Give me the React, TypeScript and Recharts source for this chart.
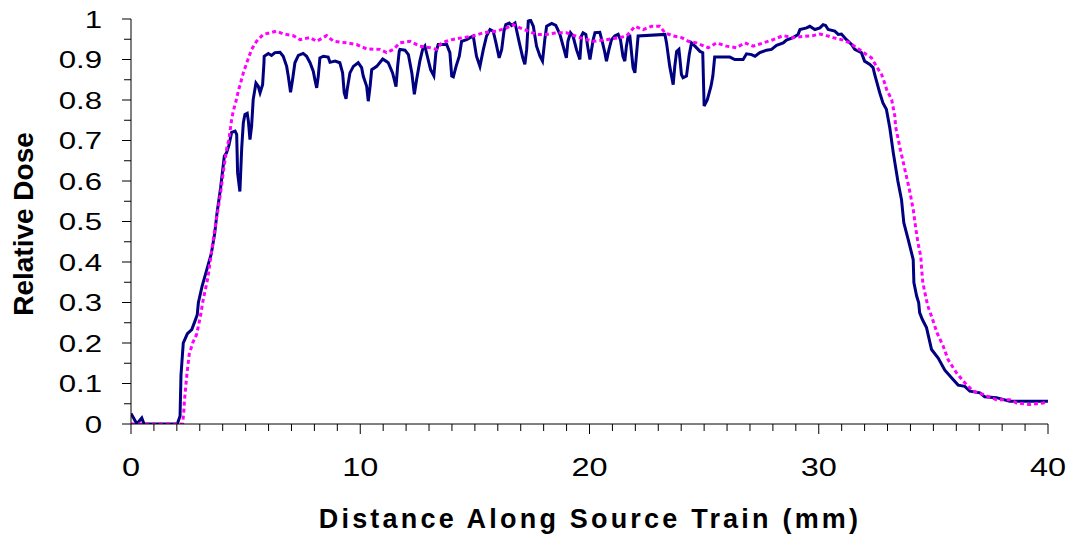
import React from "react";
import { LineChart, Line, XAxis, YAxis, Label } from "recharts";

// measured profile (solid navy), [distance mm, relative dose]
const measured: [number, number][] = [
  [0, 0.026], [0.15, 0.011], [0.25, 0], [0.47, 0.015], [0.57, 0], [2.02, 0], [2.14, 0.02],
  [2.18, 0.12], [2.28, 0.2], [2.35, 0.209], [2.46, 0.223], [2.65, 0.233], [2.79, 0.254],
  [2.89, 0.27], [2.94, 0.3], [3.1, 0.34], [3.3, 0.38], [3.5, 0.42], [3.65, 0.47], [3.75, 0.52],
  [3.85, 0.56], [3.91, 0.584], [4.07, 0.661], [4.17, 0.67], [4.27, 0.688], [4.39, 0.72],
  [4.54, 0.723], [4.61, 0.715], [4.65, 0.62], [4.75, 0.574], [4.83, 0.682], [4.9, 0.744],
  [4.97, 0.764], [5.07, 0.767], [5.12, 0.748], [5.19, 0.702], [5.26, 0.735], [5.33, 0.801],
  [5.45, 0.842], [5.55, 0.834], [5.63, 0.818], [5.74, 0.838], [5.8, 0.892], [5.81, 0.908],
  [5.99, 0.915], [6.13, 0.91], [6.28, 0.917], [6.5, 0.918], [6.64, 0.908], [6.79, 0.883],
  [6.86, 0.859], [6.96, 0.819], [7.05, 0.851], [7.15, 0.892], [7.3, 0.91], [7.51, 0.915],
  [7.66, 0.908], [7.81, 0.892], [7.95, 0.871], [8.02, 0.851], [8.1, 0.83], [8.17, 0.859],
  [8.24, 0.904], [8.39, 0.908], [8.6, 0.906], [8.68, 0.893], [8.9, 0.896], [9.11, 0.892],
  [9.23, 0.867], [9.3, 0.818], [9.38, 0.803], [9.43, 0.826], [9.55, 0.867], [9.7, 0.883],
  [9.91, 0.892], [10.06, 0.88], [10.13, 0.859], [10.28, 0.834], [10.35, 0.797], [10.43, 0.834],
  [10.5, 0.875], [10.72, 0.883], [10.98, 0.901], [11.12, 0.896], [11.22, 0.892], [11.41, 0.867],
  [11.56, 0.833], [11.63, 0.883], [11.7, 0.92], [11.73, 0.925], [11.95, 0.923], [12.1, 0.912],
  [12.25, 0.867], [12.36, 0.814], [12.46, 0.851], [12.6, 0.896], [12.72, 0.925], [12.82, 0.933],
  [12.96, 0.9], [13.07, 0.875], [13.21, 0.86], [13.3, 0.917], [13.4, 0.937], [13.77, 0.937],
  [13.91, 0.917], [13.99, 0.859], [14.06, 0.857], [14.18, 0.883], [14.32, 0.908], [14.42, 0.945],
  [14.64, 0.949], [14.79, 0.954], [14.93, 0.958], [15.07, 0.908], [15.22, 0.883], [15.37, 0.925],
  [15.51, 0.958], [15.66, 0.974], [15.8, 0.97], [15.92, 0.941], [16.06, 0.904], [16.17, 0.925],
  [16.27, 0.97], [16.35, 0.986], [16.5, 0.99], [16.6, 0.984], [16.75, 0.99], [16.94, 0.941],
  [17.09, 0.904], [17.18, 0.888], [17.26, 0.925], [17.33, 0.995], [17.43, 0.997], [17.55, 0.982],
  [17.69, 0.933], [17.84, 0.908], [17.95, 0.896], [18.05, 0.949], [18.13, 0.982], [18.35, 0.989],
  [18.53, 0.984], [18.71, 0.962], [18.85, 0.933], [18.99, 0.904], [19.06, 0.945], [19.17, 0.966],
  [19.28, 0.958], [19.43, 0.925], [19.58, 0.9], [19.65, 0.958], [19.72, 0.966], [19.84, 0.962],
  [19.94, 0.925], [20.02, 0.9], [20.16, 0.949], [20.24, 0.966], [20.45, 0.967], [20.57, 0.941],
  [20.67, 0.917], [20.74, 0.896], [20.85, 0.925], [20.96, 0.949], [21.1, 0.958], [21.25, 0.962],
  [21.35, 0.949], [21.46, 0.908], [21.54, 0.896], [21.61, 0.933], [21.69, 0.958], [21.76, 0.958],
  [21.9, 0.88], [21.98, 0.867], [22.12, 0.958], [23.29, 0.962], [23.36, 0.941], [23.5, 0.883],
  [23.65, 0.838], [23.72, 0.883], [23.8, 0.92], [23.9, 0.925], [23.94, 0.904], [24.01, 0.863],
  [24.08, 0.855], [24.23, 0.859], [24.35, 0.912], [24.45, 0.941], [24.6, 0.933], [24.82, 0.92],
  [24.94, 0.917], [25.0, 0.785], [25.14, 0.801], [25.3, 0.834], [25.38, 0.859], [25.46, 0.906],
  [26.12, 0.906], [26.34, 0.9], [26.7, 0.9], [26.85, 0.914], [27.07, 0.912], [27.22, 0.908],
  [27.43, 0.917], [27.72, 0.923], [27.94, 0.925], [28.16, 0.935], [28.45, 0.941], [28.59, 0.948],
  [28.88, 0.954], [29.1, 0.962], [29.18, 0.974], [29.47, 0.978], [29.61, 0.982], [29.83, 0.974],
  [30.05, 0.978], [30.19, 0.986], [30.3, 0.984], [30.41, 0.974], [30.7, 0.97], [30.85, 0.962],
  [30.99, 0.963], [31.21, 0.949], [31.43, 0.937], [31.57, 0.925], [31.86, 0.917], [32.0, 0.896],
  [32.23, 0.888], [32.37, 0.88], [32.44, 0.863], [32.66, 0.818], [32.8, 0.793], [32.95, 0.777],
  [33.1, 0.731], [33.25, 0.67], [33.45, 0.6], [33.61, 0.554], [33.71, 0.497], [33.9, 0.456],
  [34.12, 0.406], [34.15, 0.349], [34.27, 0.316], [34.36, 0.299], [34.4, 0.275], [34.52, 0.258],
  [34.7, 0.238], [34.92, 0.184], [35.21, 0.163], [35.5, 0.133], [35.86, 0.11], [36.08, 0.096],
  [36.37, 0.093], [36.59, 0.081], [37.03, 0.077], [37.24, 0.067], [37.75, 0.065], [38.33, 0.056],
  [40, 0.056],
];

// calculated profile (dotted magenta)
const calculated: [number, number][] = [
  [0, 0], [2.25, 0], [2.3, 0.028], [2.33, 0.056], [2.43, 0.118], [2.54, 0.172], [2.69, 0.2],
  [2.86, 0.221], [2.97, 0.25], [3.04, 0.27], [3.15, 0.307], [3.35, 0.36], [3.5, 0.42],
  [3.65, 0.48], [3.8, 0.53], [3.95, 0.587], [4.03, 0.624], [4.18, 0.682], [4.27, 0.702],
  [4.39, 0.752], [4.46, 0.772], [4.58, 0.797], [4.68, 0.822], [4.8, 0.846], [4.9, 0.867],
  [5.05, 0.892], [5.26, 0.925], [5.48, 0.945], [5.77, 0.962], [6.06, 0.966], [6.35, 0.97],
  [6.64, 0.963], [7.08, 0.959], [7.37, 0.949], [7.8, 0.954], [8.1, 0.945], [8.53, 0.959],
  [8.83, 0.945], [9.41, 0.941], [9.84, 0.937], [10.28, 0.926], [10.86, 0.925], [11.15, 0.917],
  [11.44, 0.925], [11.73, 0.941], [12.17, 0.945], [12.6, 0.933], [13.04, 0.929], [13.33, 0.925],
  [13.55, 0.941], [13.99, 0.949], [14.49, 0.954], [14.93, 0.958], [15.36, 0.966], [15.95, 0.97],
  [16.38, 0.978], [16.67, 0.986], [16.97, 0.978], [17.33, 0.97], [17.69, 0.962], [18.13, 0.962],
  [18.56, 0.966], [19.0, 0.966], [19.58, 0.954], [20.16, 0.945], [20.74, 0.949], [21.32, 0.954],
  [21.62, 0.958], [21.98, 0.982], [22.34, 0.974], [22.71, 0.982], [23.07, 0.982], [23.29, 0.966],
  [23.65, 0.958], [24.02, 0.954], [24.31, 0.945], [24.67, 0.941], [25.18, 0.929], [25.54, 0.941],
  [25.97, 0.933], [26.41, 0.929], [26.77, 0.941], [27.14, 0.933], [27.58, 0.941], [28.01, 0.949],
  [28.45, 0.959], [28.88, 0.954], [29.18, 0.956], [29.76, 0.959], [30.05, 0.963], [30.34, 0.959],
  [30.63, 0.954], [31.06, 0.948], [31.36, 0.941], [31.65, 0.929], [32.09, 0.912], [32.3, 0.904],
  [32.52, 0.883], [32.74, 0.863], [32.85, 0.846], [32.96, 0.826], [33.18, 0.801], [33.32, 0.76],
  [33.35, 0.735], [33.55, 0.68], [33.75, 0.63], [33.95, 0.58], [34.12, 0.53], [34.22, 0.488],
  [34.33, 0.447], [34.45, 0.414], [34.49, 0.381], [34.54, 0.349], [34.66, 0.316], [34.76, 0.291],
  [34.92, 0.266], [35.16, 0.225], [35.43, 0.192], [35.64, 0.159], [36.01, 0.126], [36.37, 0.102],
  [36.73, 0.081], [37.17, 0.073], [37.75, 0.06], [38.33, 0.06], [38.63, 0.052], [39.2, 0.048],
  [39.79, 0.052], [40, 0.055],
];

const xTicks = [
  0, 1, 2, 3, 4, 5, 6, 7, 8, 9, 10, 11, 12, 13, 14, 15, 16, 17, 18, 19, 20,
  21, 22, 23, 24, 25, 26, 27, 28, 29, 30, 31, 32, 33, 34, 35, 36, 37, 38, 39, 40,
];
const xLabels = [0, 10, 20, 30, 40];
const yTicks = [
  0, 0.05, 0.1, 0.15, 0.2, 0.25, 0.3, 0.35, 0.4, 0.45, 0.5,
  0.55, 0.6, 0.65, 0.7, 0.75, 0.8, 0.85, 0.9, 0.95, 1,
];
const yLabels = ["0", "0.1", "0.2", "0.3", "0.4", "0.5", "0.6", "0.7", "0.8", "0.9", "1"];

const measuredData = measured.map(([x, y]) => ({ x, y }));
const calculatedData = calculated.map(([x, y]) => ({ x, y }));

const FONT = '"Liberation Sans", Arial, sans-serif';

const XTick = ({ x, y, payload }: any) => {
  const major = xLabels.includes(payload.value);
  return (
    <g>
      <line x1={x} x2={x} y1={y} y2={y + (major ? 10 : 7)} stroke="#000" strokeWidth={1} />
      {major && (
        <text
          transform={`translate(${x},${y + 43}) scale(1.25,1)`}
          textAnchor="middle"
          dy="0.355em"
          fontSize={26}
          fontFamily={FONT}
          fill="#000"
        >
          {payload.value}
        </text>
      )}
    </g>
  );
};

const YTick = ({ x, y, payload, index }: any) => {
  const major = index % 2 === 0;
  return (
    <g>
      <line x1={x - (major ? 9 : 7)} x2={x} y1={y} y2={y} stroke="#000" strokeWidth={1} />
      {major && (
        <text
          transform={`translate(${x - 29},${y}) scale(1.3,1)`}
          textAnchor="end"
          dy="0.355em"
          fontSize={24}
          fontFamily={FONT}
          fill="#000"
        >
          {yLabels[index / 2]}
        </text>
      )}
    </g>
  );
};

export default function App() {
  return (
    <div style={{ position: "absolute", left: 0, top: 0, background: "#fff", fontFamily: FONT }}>
      <LineChart width={1070} height={540} margin={{ top: 19, right: 22, left: 0, bottom: 0 }}>
        <XAxis
          type="number"
          dataKey="x"
          domain={[0, 40]}
          ticks={xTicks}
          interval={0}
          tick={<XTick />}
          tickLine={false}
          tickSize={0}
          tickMargin={0}
          axisLine={{ stroke: "#000" }}
          height={116}
          allowDataOverflow
        >
          <Label
            content={() => (
              <text
                x={590}
                y={528}
                textAnchor="middle"
                fontSize={27}
                fontWeight="bold"
                letterSpacing={3.2}
                fontFamily={FONT}
                fill="#000"
              >
                Distance Along Source Train (mm)
              </text>
            )}
          />
        </XAxis>
        <YAxis
          type="number"
          domain={[0, 1]}
          ticks={yTicks}
          interval={0}
          tick={<YTick />}
          tickLine={false}
          tickSize={0}
          tickMargin={0}
          axisLine={{ stroke: "#000" }}
          width={131}
          allowDataOverflow
        >
          <Label
            content={() => (
              <text
                transform="translate(33,224) rotate(-90)"
                textAnchor="middle"
                fontSize={28}
                fontWeight="bold"
                fontFamily={FONT}
                fill="#000"
              >
                Relative Dose
              </text>
            )}
          />
        </YAxis>
        <Line
          data={measuredData}
          dataKey="y"
          type="linear"
          stroke="#000080"
          strokeWidth={3}
          dot={false}
          isAnimationActive={false}
        />
        <Line
          data={calculatedData}
          dataKey="y"
          type="linear"
          stroke="#FF00FF"
          strokeWidth={3}
          strokeDasharray="4 3"
          dot={false}
          isAnimationActive={false}
        />
      </LineChart>
    </div>
  );
}
